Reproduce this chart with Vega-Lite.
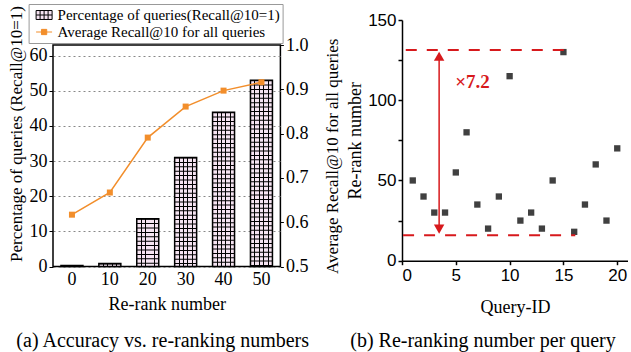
{
  "$schema": "https://vega.github.io/schema/vega-lite/v6.json",
  "padding": {"left": 6, "top": 0, "right": 0, "bottom": 0},
  "columns": 2,
  "align": "none",
  "spacing": 4,
  "resolve": {"legend": {"stroke": "independent"}},
  "config": {
    "font": "Liberation Serif",
    "axis": {"labelFont": "Liberation Serif", "titleFont": "Liberation Serif", "titleFontWeight": "normal", "labelColor": "black", "titleColor": "black", "tickColor": "black", "domainColor": "black"},
    "title": {"font": "Liberation Serif", "fontWeight": "normal", "color": "black"},
    "legend": {"strokeColor": "#999"}
  },
  "concat": [
    {
      "spacing": 0,
      "resolve": {"legend": {"stroke": "independent"}},
      "vconcat": [
        {
          "height": 0.5, "width": 10, "view": {"stroke": null},
          "data": {"values": [{}]},
          "mark": {"type": "rule", "opacity": 0},
          "encoding": {}
        },
        {
          "width": 227.4,
          "height": 221.5,
          "view": {"stroke": "black", "strokeWidth": 1.5},
          "title": {"text": "(a) Accuracy vs. re-ranking numbers", "orient": "bottom", "fontSize": 20, "frame": "group", "anchor": "middle", "dx": -4, "offset": 17},
          "data": {"values": [
            {"rerank": 0, "pct": 0.3, "recall": 0.617},
            {"rerank": 10, "pct": 0.85, "recall": 0.667},
            {"rerank": 20, "pct": 13.6, "recall": 0.791},
            {"rerank": 30, "pct": 31.0, "recall": 0.861},
            {"rerank": 40, "pct": 43.9, "recall": 0.897},
            {"rerank": 50, "pct": 53.0, "recall": 0.916}
          ]},
          "layer": [
            {
              "encoding": {
                "x": {"field": "rerank", "type": "ordinal", "scale": {"paddingInner": 0.42, "paddingOuter": 0.21},
                  "axis": {"title": "Re-rank number", "labelAngle": 0, "ticks": false, "domain": false, "labelFontSize": 18, "titleFontSize": 18, "labelPadding": 4, "titlePadding": 7}},
                "y": {"field": "pct", "type": "quantitative", "scale": {"domain": [0, 63]},
                  "axis": {"title": "Percentage of queries (Recall@10=1)", "values": [0, 10, 20, 30, 40, 50, 60], "labelOverlap": false, "domain": false, "grid": true, "gridDash": [2, 3], "gridColor": "#888", "tickSize": 4, "labelPadding": 2, "labelFontSize": 18, "titleFontSize": 17, "titlePadding": 4, "titleY": 88.5}}
              },
              "layer": [
                {"mark": {"type": "bar", "fill": "#f6e4f2"}},
                {
                  "mark": {"type": "rule", "stroke": "black", "strokeWidth": 22, "strokeDash": [1, 3.4], "strokeCap": "butt"},
                  "encoding": {"y2": {"datum": 0}}
                },
                {
                  "mark": {"type": "bar", "fill": {"gradient": "linear", "x1": 0, "y1": 0, "x2": 1, "y2": 0, "stops": [
                    {"offset": 0, "color": "rgba(0,0,0,0)"},
                    {"offset": 0.18, "color": "rgba(0,0,0,0)"},
                    {"offset": 0.18, "color": "black"},
                    {"offset": 0.225, "color": "black"},
                    {"offset": 0.225, "color": "rgba(0,0,0,0)"},
                    {"offset": 0.38, "color": "rgba(0,0,0,0)"},
                    {"offset": 0.38, "color": "black"},
                    {"offset": 0.425, "color": "black"},
                    {"offset": 0.425, "color": "rgba(0,0,0,0)"},
                    {"offset": 0.58, "color": "rgba(0,0,0,0)"},
                    {"offset": 0.58, "color": "black"},
                    {"offset": 0.625, "color": "black"},
                    {"offset": 0.625, "color": "rgba(0,0,0,0)"},
                    {"offset": 0.78, "color": "rgba(0,0,0,0)"},
                    {"offset": 0.78, "color": "black"},
                    {"offset": 0.825, "color": "black"},
                    {"offset": 0.825, "color": "rgba(0,0,0,0)"},
                    {"offset": 1, "color": "rgba(0,0,0,0)"}
                  ]}}
                },
                {"mark": {"type": "bar", "fill": "transparent", "stroke": "black", "strokeWidth": 1.5}}
              ]
            },
            {
              "encoding": {
                "x": {"field": "rerank", "type": "ordinal"},
                "y": {"field": "recall", "type": "quantitative", "scale": {"domain": [0.5, 1.0]},
                  "axis": {"orient": "right", "title": "Average Recall@10 for all queries", "values": [0.5, 0.6, 0.7, 0.8, 0.9, 1.0], "format": ".1f", "domain": false, "grid": false, "tickSize": 3, "labelPadding": 2, "labelFontSize": 18, "titleFontSize": 17, "titleAngle": 270, "titleBaseline": "top", "titlePadding": 17}}
              },
              "layer": [
                {
                  "mark": {"type": "line", "strokeWidth": 1.5},
                  "encoding": {
                    "stroke": {"datum": "Average Recall@10 for all queries", "type": "nominal",
                      "scale": {"domain": ["Percentage of queries(Recall@10=1)", "Average Recall@10 for all queries"], "range": ["black", "#f28e2b"]},
                      "legend": {
                        "orient": "none", "legendX": -24.4, "legendY": -41, "title": null,
                        "labelFont": "Liberation Serif", "labelFontSize": 15, "labelColor": "black", "labelLimit": 400, "labelOffset": 5,
                        "strokeColor": "#999", "padding": 2.5, "rowPadding": 0, "symbolSize": 256, "symbolOffset": 4.5,
                        "encode": {
                          "legend": {"update": {"stroke": {"value": "#999"}, "strokeWidth": {"value": 1}, "width": {"value": 256}, "height": {"value": 35}}},
                          "symbols": {"update": {
                            "shape": [{"test": "datum.value === 'Average Recall@10 for all queries'", "value": "M-1,0H1M-0.33,-0.33H0.33V0.33H-0.33Z"}, {"value": "M-1,-0.56H1V0.56H-1ZM-0.5,-0.56V0.56M0,-0.56V0.56M0.5,-0.56V0.56M-1,0H1"}],
                            "fill": [{"test": "datum.value === 'Average Recall@10 for all queries'", "value": "#f28e2b"}, {"value": "#f6e4f2"}],
                            "strokeWidth": {"value": 1},
                            "opacity": {"value": 1},
                            "fillOpacity": {"value": 1}
                          }}
                        }
                      }}
                  }
                },
                {"mark": {"type": "point", "shape": "square", "size": 36, "filled": true, "color": "#f28e2b", "opacity": 1}}
              ]
            }
          ],
          "resolve": {"scale": {"y": "independent"}}
        }
      ]
    },
    {
      "spacing": 0,
      "vconcat": [
        {
          "height": 9.5, "width": 10, "view": {"stroke": null},
          "data": {"values": [{}]},
          "mark": {"type": "rule", "opacity": 0},
          "encoding": {}
        },
        {
          "width": 226,
          "height": 240.7,
          "view": {"stroke": null},
          "title": {"text": "(b) Re-ranking number per query", "orient": "bottom", "fontSize": 20, "frame": "group", "anchor": "middle", "dx": -32, "offset": 14},
          "layer": [
            {
              "data": {"values": [
                {"qid": 1, "n": 50}, {"qid": 2, "n": 40}, {"qid": 3, "n": 30}, {"qid": 4, "n": 30}, {"qid": 5, "n": 55},
                {"qid": 6, "n": 80}, {"qid": 7, "n": 35}, {"qid": 8, "n": 20}, {"qid": 9, "n": 40}, {"qid": 10, "n": 115},
                {"qid": 11, "n": 25}, {"qid": 12, "n": 30}, {"qid": 13, "n": 20}, {"qid": 14, "n": 50}, {"qid": 15, "n": 130},
                {"qid": 16, "n": 18}, {"qid": 17, "n": 35}, {"qid": 18, "n": 60}, {"qid": 19, "n": 25}, {"qid": 20, "n": 70}
              ]},
              "mark": {"type": "point", "shape": "square", "filled": true, "size": 40, "color": "#404040", "opacity": 1},
              "encoding": {
                "x": {"field": "qid", "type": "quantitative", "scale": {"domain": [0, 21], "nice": false},
                  "axis": {"title": "Query-ID", "values": [0, 5, 10, 15, 20], "grid": false, "tickSize": 4, "domainWidth": 1.5, "tickWidth": 1.5, "labelFont": "Liberation Sans", "labelFontSize": 17, "labelPadding": 3, "titleFontSize": 18, "titlePadding": 15}},
                "y": {"field": "n", "type": "quantitative", "scale": {"domain": [0, 150], "nice": false},
                  "axis": {"title": "Re-rank number", "values": [0, 25, 50, 75, 100, 125, 150], "labelExpr": "datum.value % 50 === 0 ? datum.label : ''", "grid": false, "tickSize": 4, "domainWidth": 1.5, "tickWidth": 1.5, "labelFont": "Liberation Sans", "labelFontSize": 17, "labelPadding": 2, "titleFontSize": 18, "titlePadding": 3}}
              }
            },
            {
              "data": {"values": [
                {"x": 0.35, "x2": 15.15, "y": 131.3},
                {"x": 0.1, "x2": 16.1, "y": 15.8}
              ]},
              "mark": {"type": "rule", "stroke": "#d7191c", "strokeWidth": 2, "strokeDash": [11, 10]},
              "encoding": {
                "x": {"field": "x", "type": "quantitative"},
                "x2": {"field": "x2"},
                "y": {"field": "y", "type": "quantitative"}
              }
            },
            {
              "data": {"values": [{"x": 3.45, "y": 18, "y2": 129}]},
              "mark": {"type": "rule", "stroke": "#d7191c", "strokeWidth": 1.5},
              "encoding": {
                "x": {"field": "x", "type": "quantitative"},
                "y": {"field": "y", "type": "quantitative"},
                "y2": {"field": "y2"}
              }
            },
            {
              "data": {"values": [{"x": 3.45, "y": 127.4, "dir": "up"}, {"x": 3.45, "y": 19.7, "dir": "down"}]},
              "mark": {"type": "point", "filled": true, "size": 110, "color": "#d7191c", "opacity": 1},
              "encoding": {
                "x": {"field": "x", "type": "quantitative"},
                "y": {"field": "y", "type": "quantitative"},
                "shape": {"field": "dir", "type": "nominal", "scale": {"domain": ["up", "down"], "range": ["triangle-up", "triangle-down"]}, "legend": null}
              }
            },
            {
              "data": {"values": [{"x": 4.95, "y": 107.5, "label": "×7.2"}]},
              "mark": {"type": "text", "align": "left", "baseline": "alphabetic", "font": "Liberation Serif", "fontWeight": "bold", "fontSize": 19, "color": "#d7191c"},
              "encoding": {
                "x": {"field": "x", "type": "quantitative"},
                "y": {"field": "y", "type": "quantitative"},
                "text": {"field": "label"}
              }
            }
          ]
        }
      ]
    }
  ]
}
